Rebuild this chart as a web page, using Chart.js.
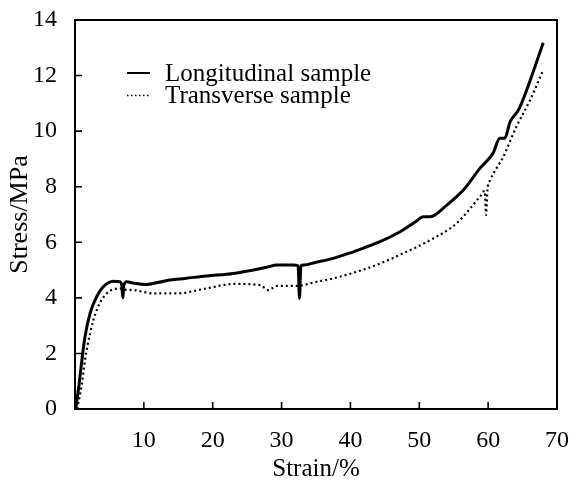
<!DOCTYPE html>
<html>
<head>
<meta charset="utf-8">
<script src="https://cdn.jsdelivr.net/npm/chart.js@4.4.0/dist/chart.umd.min.js"></script>
<style>
html, body { margin: 0; padding: 0; background: #fff; }
#wrap { width: 569px; height: 484px; }
</style>
</head>
<body>
<div id="wrap"><canvas id="stress-strain"></canvas></div>
<script>
// values
var longStrain = [0.1, 0.6, 1.0, 1.45, 2.2, 3.15, 4.1, 5.6, 6.5, 6.8, 6.95, 7.1, 7.5, 8.5, 10.4, 12.0, 13.8, 16.0, 19.1, 23.0, 27.8, 29.3, 31.7, 32.4, 32.6, 32.8, 33.2, 35.0, 37.5, 40.0, 42.4, 44.3, 47.2, 49.5, 50.6, 51.6, 54.0, 56.4, 58.8, 60.7, 61.7, 62.4, 63.2, 64.4, 65.6, 66.8, 68.0];
var longStress = [0, 0.9, 1.76, 2.6, 3.45, 4.04, 4.4, 4.6, 4.58, 4.45, 4.0, 4.45, 4.58, 4.53, 4.48, 4.55, 4.64, 4.7, 4.79, 4.88, 5.1, 5.18, 5.18, 5.15, 3.98, 5.15, 5.18, 5.28, 5.42, 5.62, 5.84, 6.02, 6.38, 6.75, 6.92, 6.92, 7.34, 7.88, 8.66, 9.2, 9.74, 9.74, 10.34, 10.76, 11.48, 12.32, 13.18];

var transStrain = [0.3, 1.0, 1.45, 2.2, 3.15, 4.6, 6.5, 7.0, 8.5, 11.4, 14.8, 19.1, 23.0, 26.9, 28.1, 29.3, 32.2, 35.1, 37.5, 42.4, 45.7, 47.2, 51.6, 55.4, 58.8, 59.5, 59.7, 59.9, 60.3, 62.2, 64.1, 66.1, 68.0];
var transStress = [0, 0.9, 1.76, 2.73, 3.56, 4.16, 4.34, 4.3, 4.28, 4.16, 4.16, 4.34, 4.5, 4.46, 4.28, 4.43, 4.43, 4.58, 4.7, 5.06, 5.38, 5.55, 6.08, 6.68, 7.64, 7.85, 6.98, 7.9, 8.24, 9.08, 10.16, 11.12, 12.2];

var seriesLabels = ['Longitudinal sample', 'Transverse sample'];
var xTicks = [0, 10, 20, 30, 40, 50, 60, 70];
var yTicks = [0, 2, 4, 6, 8, 10, 12, 14];

var serif = '"Liberation Serif", "Times New Roman", serif';

function toPoints(xs, ys) {
    var pts = [];
    for (var i = 0; i < xs.length; i++) {
        pts.push({ x: xs[i], y: ys[i] });
    }
    return pts;
}

// top/right frame and inward tick marks
var framePlugin = {
    id: 'frame',
    afterDraw: function(chart) {
        var ctx = chart.ctx;
        var a = chart.chartArea;
        var xs = chart.scales.x, ys = chart.scales.y;
        ctx.save();
        ctx.strokeStyle = '#000';
        ctx.lineWidth = 2;
        ctx.beginPath();
        ctx.moveTo(a.left, a.top);
        ctx.lineTo(a.right, a.top);
        ctx.lineTo(a.right, a.bottom);
        ctx.stroke();
        ctx.lineWidth = 1.6;
        ctx.beginPath();
        xs.ticks.forEach(function(t) {
            if (t.value <= xTicks[0] || t.value >= xTicks[xTicks.length - 1]) return;
            var px = xs.getPixelForValue(t.value);
            ctx.moveTo(px, a.bottom);
            ctx.lineTo(px, a.bottom - 7);
        });
        ys.ticks.forEach(function(t) {
            if (t.value <= yTicks[0] || t.value >= yTicks[yTicks.length - 1]) return;
            var py = ys.getPixelForValue(t.value);
            ctx.moveTo(a.left, py);
            ctx.lineTo(a.left + 7, py);
        });
        ctx.stroke();
        ctx.restore();
    }
};

// legend drawn inside the plot, upper left
var insideLegend = {
    id: 'insideLegend',
    afterDraw: function(chart) {
        var ctx = chart.ctx;
        ctx.save();
        ctx.font = '25px ' + serif;
        ctx.fillStyle = '#000';
        ctx.textBaseline = 'alphabetic';
        chart.data.datasets.forEach(function(ds, i) {
            var y = 73 + i * 22.5;
            ctx.strokeStyle = '#000';
            if (i === 0) {
                ctx.lineWidth = 2;
                ctx.setLineDash([]);
            } else {
                ctx.lineWidth = 1.3;
                ctx.setLineDash([1.5, 2.5]);
            }
            ctx.beginPath();
            ctx.moveTo(127, y);
            ctx.lineTo(150, y);
            ctx.stroke();
            ctx.setLineDash([]);
            ctx.fillText(ds.label, 165, y + 7.5);
        });
        ctx.restore();
    }
};

var ctx = document.getElementById('stress-strain');

var chart = new Chart(ctx, {
    type: 'scatter',
    data: {
        datasets: [
            {
                label: seriesLabels[0],
                data: toPoints(longStrain, longStress),
                showLine: true,
                borderColor: '#000',
                backgroundColor: '#000',
                borderWidth: 3,
                pointRadius: 0,
                cubicInterpolationMode: 'monotone'
            },
            {
                label: seriesLabels[1],
                data: toPoints(transStrain, transStress),
                showLine: true,
                borderColor: '#000',
                backgroundColor: '#000',
                borderWidth: 2.2,
                borderDash: [2, 3],
                pointRadius: 0,
                cubicInterpolationMode: 'monotone'
            }
        ]
    },
    options: {
        responsive: true,
        maintainAspectRatio: false,
        animation: false,
        devicePixelRatio: 1,
        layout: { padding: { top: 20, right: 12, left: 0, bottom: 0 } },
        plugins: {
            legend: { display: false },
            tooltip: { enabled: false }
        },
        scales: {
            x: {
                type: 'linear',
                min: xTicks[0],
                max: xTicks[xTicks.length - 1],
                afterBuildTicks: function(s) {
                    s.ticks = xTicks.map(function(v) { return { value: v }; });
                },
                ticks: {
                    color: '#000',
                    font: { family: serif, size: 24 },
                    padding: 9,
                    maxRotation: 0,
                    callback: function(v) { return v === 0 ? '' : v; }
                },
                grid: { display: false },
                border: { display: true, color: '#000', width: 2 },
                title: {
                    display: true,
                    text: 'Strain/%',
                    color: '#000',
                    font: { family: serif, size: 25 },
                    padding: { top: 0, bottom: 0 }
                },
                afterFit: function(s) {
                    s.height = 75;
                    s.paddingLeft = 0;
                    s.paddingRight = 0;
                }
            },
            y: {
                type: 'linear',
                min: yTicks[0],
                max: yTicks[yTicks.length - 1],
                afterBuildTicks: function(s) {
                    s.ticks = yTicks.map(function(v) { return { value: v }; });
                },
                ticks: {
                    color: '#000',
                    font: { family: serif, size: 24 },
                    padding: 10
                },
                grid: { display: false },
                border: { display: true, color: '#000', width: 2 },
                title: {
                    display: true,
                    text: 'Stress/MPa',
                    color: '#000',
                    font: { family: serif, size: 26 },
                    padding: { top: 5, bottom: 0 }
                },
                afterFit: function(s) {
                    s.width = 75;
                    s.paddingTop = 0;
                    s.paddingBottom = 0;
                }
            }
        }
    },
    plugins: [framePlugin, insideLegend]
});
</script>
</body>
</html>
